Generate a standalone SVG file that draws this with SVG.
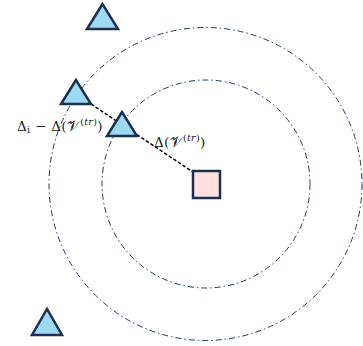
<svg xmlns="http://www.w3.org/2000/svg" width="363" height="346" viewBox="0 0 363 346">
<style>
.ring{fill:none;stroke:#1f3864;stroke-width:1;stroke-dasharray:6 3 1.5 3}
.tri{fill:#9dd9f3;stroke:#1b2f4f;stroke-width:2.5;stroke-linejoin:miter}
.sq{fill:#fde0df;stroke:#1b2f4f;stroke-width:2.5}
.link{stroke:#000;stroke-width:1.5;stroke-dasharray:3.5 2;fill:none}
.lbl{font-family:"DejaVu Serif","Liberation Serif",serif;font-size:13.5px;letter-spacing:0.3px;fill:#222}
.sm{font-size:9.5px}
.it{font-style:italic}
.scr{font-family:"DejaVu Sans","Noto Sans",serif;font-size:14.5px}
</style>
<rect width="363" height="346" fill="#fff"/>
<g id="rings">
<circle class="ring" cx="206" cy="184" r="104"/>
<circle class="ring" cx="205.5" cy="184" r="156.5"/>
</g>
<g id="connectors">
<line class="link" x1="91" y1="104" x2="193" y2="172"/>
</g>
<g id="node-tri-top"><polygon class="tri" points="102.5,4 87,29 118,29"/></g>
<g id="node-tri-a"><polygon class="tri" points="76,80 61,104 91,104"/></g>
<g id="node-tri-b"><polygon class="tri" points="122,112 107,136 137,136"/></g>
<g id="node-tri-bottom"><polygon class="tri" points="47,309 32,335 62,335"/></g>
<g id="node-square"><rect class="sq" x="193" y="171" width="27" height="27"/></g>
<g id="labels">
<text class="lbl" x="17" y="131">Δ<tspan class="sm" dy="2">i</tspan><tspan dy="-2"> − Δ(</tspan><tspan class="scr">𝒱</tspan><tspan class="sm" dy="-6">(<tspan class="it">tr</tspan>)</tspan><tspan dy="6">)</tspan></text>
<text class="lbl" x="154" y="147">Δ(<tspan class="scr">𝒱</tspan><tspan class="sm" dy="-6">(<tspan class="it">tr</tspan>)</tspan><tspan dy="6">)</tspan></text>
</g>
</svg>
